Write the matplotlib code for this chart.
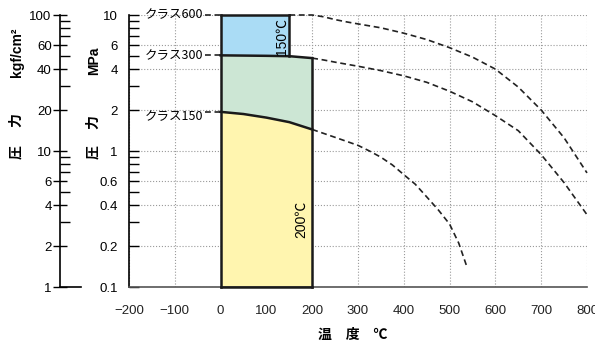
import matplotlib.pyplot as plt
import numpy as np
from matplotlib.ticker import FixedLocator, NullFormatter

plt.rcParams["font.family"] = ["Liberation Sans", "Noto Sans CJK JP"]
JP = ["Noto Sans CJK JP", "Liberation Sans"]

# pressure-temperature ratings [MPa] per class
temp_150 = [0, 50, 100, 150, 200, 250, 300, 325, 350, 375, 400, 425, 450, 475, 500, 520, 538]
press_150 = [1.94, 1.87, 1.76, 1.63, 1.44, 1.26, 1.1, 1.0, 0.9, 0.79, 0.67, 0.57, 0.46, 0.37, 0.29, 0.21, 0.14]

temp_300 = [0, 50, 100, 150, 200, 225, 250, 300, 350, 400, 450, 500, 550, 600, 650, 700, 750, 800]
press_300 = [5.05, 5.03, 5.01, 4.98, 4.82, 4.67, 4.5, 4.2, 3.9, 3.57, 3.2, 2.75, 2.3, 1.82, 1.41, 0.94, 0.585, 0.34]

temp_600 = [0, 150, 200, 225, 250, 275, 300, 350, 400, 450, 500, 550, 600, 650, 700, 750, 800]
press_600 = [10, 10, 10, 9.7, 9.25, 8.9, 8.6, 8.05, 7.35, 6.6, 5.75, 4.9, 4.0, 2.95, 2.0, 1.25, 0.69]

class_names = ["クラス600", "クラス300", "クラス150"]

x_ticks = list(range(-200, 801, 100))
mpa_ticks = [0.1, 0.2, 0.4, 0.6, 1, 2, 4, 6, 10]
mpa_labels = ["0.1", "0.2", "0.4", "0.6", "1", "2", "4", "6", "10"]
kgf_ticks = [1, 2, 4, 6, 10, 20, 40, 60, 100]
kgf_labels = ["1", "2", "4", "6", "10", "20", "40", "60", "100"]

W, H = 595, 344


def fx(px):
    return px / W


def fy(py):
    return 1 - py / H


fig = plt.figure(figsize=(W / 100, H / 100), dpi=100)
ax = fig.add_axes([fx(129), 57 / H, 458 / W, 272 / H])
ax.set_yscale("log")
ax.set_xlim(-200, 800)
ax.set_ylim(0.1, 10)

ax.set_xticks(x_ticks)
ax.set_yticks(mpa_ticks)
ax.set_yticklabels(mpa_labels)
ax.yaxis.set_minor_locator(FixedLocator([0.3, 0.5, 0.7, 0.8, 0.9, 3, 5, 7, 8, 9]))
ax.yaxis.set_minor_formatter(NullFormatter())
ax.grid(True, which="major", ls=":", color="#9a9a9a", lw=0.8)
ax.tick_params(axis="x", length=0, pad=13, labelsize=9.5, colors="#222")
ax.tick_params(axis="y", which="major", direction="in", length=7, width=1, pad=8, labelsize=9.5)
ax.tick_params(axis="y", which="minor", direction="in", length=7, width=1)
for s in ["top", "right"]:
    ax.spines[s].set_visible(False)
ax.spines["left"].set_linewidth(1.2)
ax.spines["bottom"].set_linewidth(1.2)
ax.spines["bottom"].set_color("#555")

t150 = np.array(temp_150)
p150 = np.array(press_150)
t300 = np.array(temp_300)
p300 = np.array(press_300)
t600 = np.array(temp_600)
p600 = np.array(press_600)

# rated zones
s150 = t150 <= 200
s300 = t300 <= 200
ax.fill_between(t150[s150], 0.1, p150[s150], color="#fff5af", lw=0, zorder=2)
ax.fill_between(t300[s300], p150[s150], p300[s300], color="#cce6d4", lw=0, zorder=2)
b300 = t300 <= 150
ax.fill_between(t300[b300], p300[b300], 10, color="#aadcf5", lw=0, zorder=2)

edge = dict(color="#1a1a1a", lw=1.8, zorder=4, clip_on=False, solid_capstyle="projecting")
ax.plot([0, 0], [0.1, 10], **edge)
ax.plot([0, 200], [0.1, 0.1], **edge)
ax.plot([200, 200], [0.1, p300[t300 == 200][0]], **edge)
ax.plot(t300[s300], p300[s300], **edge)
ax.plot(t150[s150], p150[s150], **edge)
ax.plot([0, 150], [10, 10], **edge)
ax.plot([150, 150], [10, p300[t300 == 150][0]], **edge)

# extrapolated ratings beyond the zones
dash = dict(color="#222", lw=1.2, ls=(0, (3.5, 2.2)), zorder=3, clip_on=False)
d150 = t150 >= 200
d300 = t300 >= 200
d600 = t600 >= 150
ax.plot(t150[d150], p150[d150], **dash)
ax.plot(t300[d300], p300[d300], **dash)
ax.plot(t600[d600], p600[d600], **dash)

# class labels with leaders
starts = [p600[0], p300[0], p150[0]]
offsets = [0, 0, -5]
for name, p, off in zip(class_names, starts, offsets):
    ax.plot([-33, 0], [p, p], **dash)
    ax.annotate(name, (-37, p), xytext=(0, off), textcoords="offset pixels",
                ha="right", va="center", fontsize=9, family=JP, annotation_clip=False)

ax.text(134, 6.9, "150℃", rotation=90, ha="center", va="center", fontsize=10, zorder=5)
ax.text(175, 0.313, "200℃", rotation=90, ha="center", va="center", fontsize=10, zorder=5)

# kgf/cm2 scale
kax = fig.add_axes([fx(60), 57 / H, 21 / W, 272 / H])
kax.set_yscale("log")
kax.set_ylim(1, 100)
kax.set_xlim(0, 1)
kax.patch.set_visible(False)
kax.set_xticks([])
for s in ["top", "right"]:
    kax.spines[s].set_visible(False)
kax.spines["left"].set_linewidth(1.2)
kax.spines["bottom"].set_linewidth(1.2)
kax.set_yticks(kgf_ticks)
kax.set_yticklabels(kgf_labels)
kax.yaxis.set_minor_locator(FixedLocator([3, 5, 7, 8, 9, 30, 50, 70, 80, 90]))
kax.yaxis.set_minor_formatter(NullFormatter())
kax.tick_params(axis="y", which="major", direction="inout", length=10, width=1, pad=1, labelsize=9.5)
kax.tick_params(axis="y", which="minor", direction="in", length=7, width=1)

# axis titles
lab = dict(rotation=90, ha="center", va="center", fontsize=10, fontweight="bold")
fig.text(fx(16), fy(152), "圧", family=JP, **lab)
fig.text(fx(16), fy(120), "力", family=JP, **lab)
fig.text(fx(17), fy(52), "kgf/cm²", **lab)
fig.text(fx(93), fy(152), "圧", family=JP, **lab)
fig.text(fx(93), fy(122), "力", family=JP, **lab)
fig.text(fx(94), fy(61), "MPa", **lab)
fig.text(fx(353), fy(335), "温　度　℃", ha="center", va="center", fontsize=10,
         fontweight="bold", family=JP)

fig.savefig("out.png", dpi=100)
